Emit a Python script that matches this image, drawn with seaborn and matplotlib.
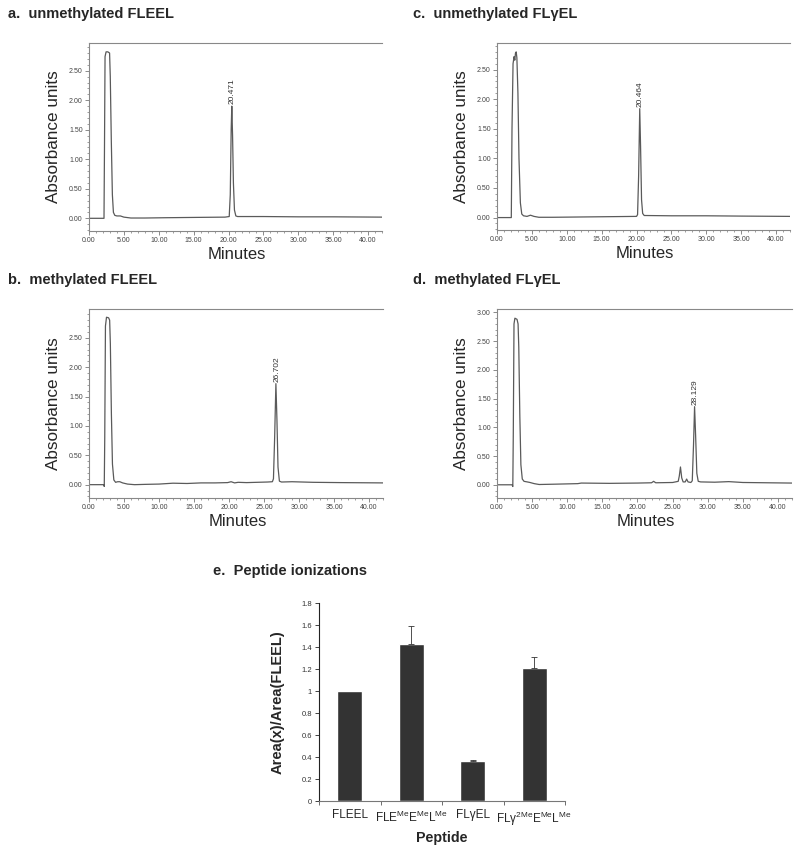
import numpy as np
import pandas as pd
import matplotlib
matplotlib.use("Agg")
import matplotlib.pyplot as plt
import seaborn as sns
from matplotlib.ticker import MultipleLocator, FormatStrFormatter, FixedLocator, NullFormatter

sns.set_style("white")
plt.rcParams['font.family'] = ['Liberation Sans', 'DejaVu Sans']
plt.rcParams['mathtext.fontset'] = 'custom'
plt.rcParams['mathtext.rm'] = 'Liberation Sans'

# a. unmethylated FLEEL
time_a = [0.0, 2.15, 2.22, 2.30, 2.45, 2.70, 2.95, 3.05, 3.20, 3.35, 3.50, 3.70, 4.00, 4.50, 5.00,
          6.00, 8.00, 11.0, 15.0, 19.5, 20.10, 20.25, 20.38, 20.47, 20.58, 20.70, 20.85, 21.05,
          21.30, 25.0, 30.0, 35.0, 42.0]
abs_a = [0.00, 0.00, 1.20, 2.74, 2.82, 2.82, 2.80, 2.40, 1.30, 0.40, 0.10, 0.05, 0.04, 0.04, 0.02,
         0.005, 0.005, 0.01, 0.015, 0.02, 0.03, 0.40, 1.50, 1.90, 1.40, 0.60, 0.14, 0.04,
         0.03, 0.03, 0.025, 0.025, 0.02]

# b. methylated FLEEL
time_b = [0.0, 2.10, 2.18, 2.25, 2.35, 2.50, 2.80, 2.95, 3.05, 3.20, 3.35, 3.55, 3.80, 4.10, 4.40,
          4.80, 5.50, 6.50, 8.0, 10.0, 12.0, 14.0, 16.0, 18.0, 19.8, 20.3, 20.8, 21.3, 22.5, 24.0,
          25.5, 26.2, 26.35, 26.52, 26.70, 26.85, 27.00, 27.20, 27.5, 29.0, 32.0, 36.0, 42.0]
abs_b = [0.00, 0.00, -0.03, 0.80, 2.70, 2.85, 2.84, 2.80, 2.40, 1.20, 0.35, 0.08, 0.04, 0.05, 0.05,
         0.03, 0.01, 0.00, 0.005, 0.01, 0.025, 0.02, 0.03, 0.03, 0.035, 0.05, 0.03, 0.04, 0.035, 0.04,
         0.045, 0.05, 0.10, 0.80, 1.72, 1.10, 0.30, 0.06, 0.045, 0.05, 0.04, 0.035, 0.03]

# c. unmethylated FLyEL
time_c = [0.0, 2.05, 2.15, 2.30, 2.45, 2.55, 2.65, 2.75, 2.85, 3.00, 3.15, 3.35, 3.55, 3.80, 4.30,
          4.80, 5.30, 6.00, 8.0, 12.0, 16.0, 20.0, 20.15, 20.30, 20.46, 20.58, 20.72, 20.88,
          21.10, 25.0, 30.0, 35.0, 42.0]
abs_c = [0.00, 0.00, 1.50, 2.60, 2.72, 2.66, 2.78, 2.80, 2.70, 2.10, 1.00, 0.25, 0.06, 0.03, 0.02,
         0.04, 0.02, 0.005, 0.005, 0.01, 0.015, 0.02, 0.05, 0.70, 1.84, 1.20, 0.30, 0.07,
         0.035, 0.03, 0.03, 0.025, 0.02]

# d. methylated FLyEL
time_d = [0.0, 2.15, 2.25, 2.32, 2.42, 2.55, 2.85, 3.00, 3.10, 3.25, 3.40, 3.60, 3.85, 4.30, 4.70,
          5.30, 6.00, 8.0, 11.5, 12.0, 16.0, 20.0, 22.0, 22.3, 22.6, 25.0, 25.8, 25.95, 26.12,
          26.30, 26.50, 26.8, 27.0, 27.2, 27.6, 27.80, 27.98, 28.13, 28.28, 28.45, 28.65, 29.0,
          31.0, 33.0, 35.0, 42.0]
abs_d = [0.00, 0.00, -0.03, 0.90, 2.80, 2.90, 2.88, 2.80, 2.40, 1.20, 0.35, 0.10, 0.06, 0.05, 0.04,
         0.02, 0.005, 0.01, 0.02, 0.03, 0.025, 0.03, 0.035, 0.06, 0.035, 0.04, 0.06, 0.15, 0.31,
         0.12, 0.05, 0.05, 0.10, 0.05, 0.04, 0.07, 0.70, 1.36, 0.85, 0.20, 0.06, 0.05,
         0.045, 0.055, 0.04, 0.03]

peak_times = ["20.471", "26.702", "20.464", "28.129"]
peak_heights = [1.90, 1.72, 1.84, 1.36]

# e. peptide ionizations
peptides = ["FLEEL",
            r"FLE$^{\mathregular{Me}}$E$^{\mathregular{Me}}$L$^{\mathregular{ Me}}$",
            "FLγEL",
            r"FLγ$^{\mathregular{2Me}}$E$^{\mathregular{Me}}$L$^{\mathregular{ Me}}$"]
ratio = [1.0, 1.43, 0.364, 1.206]
ratio_err = [0.0, 0.165, 0.01, 0.105]

fig = plt.figure(figsize=(8, 8.57), dpi=100)

panels = [
    ("a.  unmethylated FLEEL", time_a, abs_a, peak_times[0], peak_heights[0], (89, 382, 43, 231), (-0.215, 2.97), 2.5),
    ("b.  methylated FLEEL", time_b, abs_b, peak_times[1], peak_heights[1], (89, 383, 309, 498), (-0.227, 2.99), 2.5),
    ("c.  unmethylated FLγEL", time_c, abs_c, peak_times[2], peak_heights[2], (497, 790, 43, 230), (-0.21, 2.95), 2.5),
    ("d.  methylated FLγEL", time_d, abs_d, peak_times[3], peak_heights[3], (497, 792, 309, 498), (-0.23, 3.06), 3.0),
]

W, H = 800, 857
for title, t, a, plabel, ph, (l, r, top, bot), ylim, ymaxtick in panels:
    ax = fig.add_axes([l / W, 1 - bot / H, (r - l) / W, (bot - top) / H])
    df = pd.DataFrame({"Minutes": t, "Absorbance": a})
    sns.lineplot(data=df, x="Minutes", y="Absorbance", ax=ax, color="#5a5a5a",
                 linewidth=0.9, estimator=None, sort=False)
    ax.set_xlim(0, 42)
    ax.set_ylim(*ylim)
    ax.xaxis.set_major_locator(MultipleLocator(5))
    ax.xaxis.set_minor_locator(MultipleLocator(1))
    ax.xaxis.set_major_formatter(FormatStrFormatter("%.2f"))
    ax.yaxis.set_major_locator(FixedLocator(np.arange(0, ymaxtick + 0.01, 0.5)))
    ax.yaxis.set_minor_locator(MultipleLocator(0.1))
    ax.yaxis.set_major_formatter(FormatStrFormatter("%.2f"))
    ax.tick_params(which="both", bottom=True, left=True)
    ax.tick_params(which="major", direction="out", length=3, width=0.6, color="#777777",
                   labelsize=5, labelcolor="#444444", pad=1.5)
    ax.tick_params(which="minor", direction="out", length=1.5, width=0.5, color="#777777")
    for s in ["left", "bottom", "top"]:
        ax.spines[s].set_color("#888888")
        ax.spines[s].set_linewidth(0.8)
    ax.spines["right"].set_visible(False)
    ax.text(float(plabel) + 0.1, ph + 0.03, plabel, rotation=90, ha="center", va="bottom",
            fontsize=6, color="#333333")
    ax.set_xlabel("Minutes", fontsize=12)
    ax.set_ylabel("Absorbance units", fontsize=12.3)
    ax.xaxis.set_label_coords(0.505, -0.085)
    ax.yaxis.set_label_coords(-0.095, 0.5)
    fig.text(l / W - 81 / W if l < 400 else l / W - 84 / W, 1 - (top - 29) / H, title,
             fontsize=10.5, fontweight="bold", va="center", ha="left")

# panel e
ax = fig.add_axes([319 / W, 1 - 801 / H, 246 / W, 198 / H])
dfe = pd.DataFrame({"Peptide": peptides, "ratio": ratio, "err": ratio_err})
sns.barplot(data=dfe, x="Peptide", y="ratio", ax=ax, color="#333333", width=0.41,
            saturation=1, errorbar=None)
has_err = dfe["err"] > 0
pos = np.arange(len(peptides))[has_err.values]
ax.errorbar(pos, dfe["ratio"][has_err], yerr=[np.zeros(has_err.sum()), dfe["err"][has_err]],
            fmt="none", ecolor="#333333", elinewidth=0.6, capsize=2, capthick=0.6)
ax.set_xlim(-0.5, 3.5)
ax.set_ylim(0, 1.8)
ax.yaxis.set_major_locator(FixedLocator(np.round(np.arange(0, 1.81, 0.2), 1)))
ax.yaxis.set_major_formatter(FormatStrFormatter("%g"))
ax.xaxis.set_major_locator(FixedLocator([-0.5, 0.5, 1.5, 2.5, 3.5]))
ax.xaxis.set_major_formatter(NullFormatter())
ax.xaxis.set_minor_locator(FixedLocator([0, 1, 2, 3]))
ax.set_xticklabels(peptides, minor=True)
ax.tick_params(which="both", bottom=True, left=True)
ax.tick_params(axis="x", which="minor", length=0, labelsize=8.5, pad=6)
ax.tick_params(axis="x", which="major", direction="out", length=3, width=0.6, color="#555555")
ax.tick_params(axis="y", direction="out", length=3, width=0.6, labelsize=5.5,
               labelcolor="#333333", pad=2, color="#222222")
ax.spines["top"].set_visible(False)
ax.spines["right"].set_visible(False)
ax.spines["left"].set_color("#222222")
ax.spines["bottom"].set_color("#777777")
ax.spines["left"].set_linewidth(0.8)
ax.spines["bottom"].set_linewidth(0.8)
ax.set_xlabel("Peptide", fontsize=10.3, fontweight="bold")
ax.set_ylabel("Area(x)/Area(FLEEL)", fontsize=10.5, fontweight="bold")
ax.xaxis.set_label_coords(0.5, -0.15)
ax.yaxis.set_label_coords(-0.14, 0.5)
fig.text(213 / W, 1 - 571 / H, "e.  Peptide ionizations", fontsize=10.5, fontweight="bold",
         va="center", ha="left")

fig.savefig("out.png", dpi=100)
